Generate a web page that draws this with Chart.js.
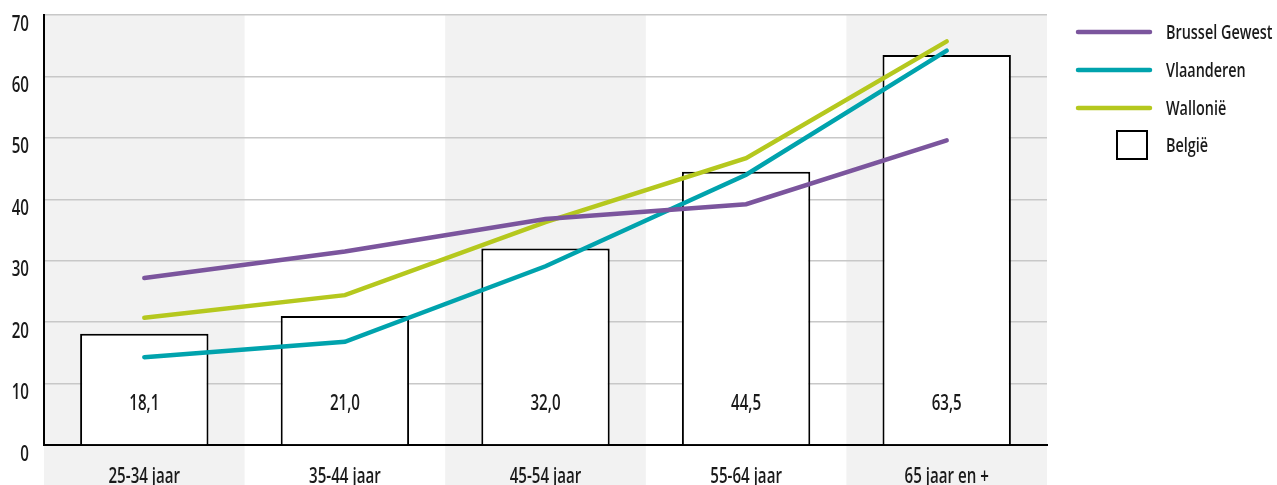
<!DOCTYPE html>
<html><head><meta charset="utf-8">
<script src="https://cdn.jsdelivr.net/npm/chart.js@4/dist/chart.umd.min.js"></script>
<style>html,body{margin:0;padding:0;background:#fff}canvas{display:block}</style>
</head><body>
<canvas id="c" width="1277" height="485"></canvas>
<script>
const categories = ["25-34 jaar", "35-44 jaar", "45-54 jaar", "55-64 jaar", "65 jaar en +"];
const belgie = [18.1, 21.0, 32.0, 44.5, 63.5];
const brussel = [27.2, 31.5, 36.8, 39.2, 49.6];
const vlaanderen = [14.3, 16.8, 29.1, 44.0, 64.2];
const wallonie = [20.7, 24.4, 36.3, 46.7, 65.7];
const yTicks = [0, 10, 20, 30, 40, 50, 60, 70];

const FONT = '"Open Sans", "Noto Sans", sans-serif';
const TXT = '#1a1a1a';
const SX = 0.72; // condensed look

function condText(ctx, text, x, y, align) {
  ctx.save();
  ctx.translate(x, y);
  ctx.scale(SX, 1);
  ctx.textAlign = align;
  ctx.fillText(text, 0, 0);
  ctx.restore();
}

const bandsPlugin = {
  id: 'bands',
  beforeDraw(chart) {
    const {ctx, chartArea, scales: {x}} = chart;
    const w = x.width / categories.length;
    ctx.save();
    ctx.fillStyle = '#f2f2f2';
    categories.forEach((c, i) => {
      if (i % 2 === 0) {
        const cx = x.getPixelForValue(i);
        ctx.fillRect(cx - w / 2, chartArea.top, w, chart.height - chartArea.top);
      }
    });
    ctx.restore();
  }
};

const textPlugin = {
  id: 'texts',
  afterDraw(chart) {
    const {ctx, chartArea, scales: {x, y}} = chart;
    ctx.save();
    ctx.font = '600 21px ' + FONT;
    ctx.fillStyle = TXT;
    ctx.textBaseline = 'alphabetic';
    y.ticks.forEach(t => {
      condText(ctx, String(t.value), 29, y.getPixelForValue(t.value) + 15.5, 'right');
    });
    categories.forEach((c, i) => {
      condText(ctx, c, x.getPixelForValue(i), 483, 'center');
    });
    belgie.forEach((v, i) => {
      condText(ctx, v.toFixed(1).replace('.', ','), x.getPixelForValue(i), chartArea.bottom - 35, 'center');
    });
    ctx.font = '600 20px ' + FONT;
    const ys = [32, 70, 108];
    [1, 2, 3].forEach((di, k) => {
      const ds = chart.data.datasets[di];
      ctx.strokeStyle = ds.borderColor;
      ctx.lineWidth = 4.5;
      ctx.lineCap = 'round';
      ctx.beginPath();
      ctx.moveTo(1078, ys[k]);
      ctx.lineTo(1150, ys[k]);
      ctx.stroke();
      condText(ctx, ds.label, 1166, ys[k] + 7, 'left');
    });
    const b = chart.data.datasets[0];
    ctx.fillStyle = '#fff';
    ctx.fillRect(1117, 131, 30, 28);
    ctx.strokeStyle = '#000';
    ctx.lineWidth = 2;
    ctx.strokeRect(1117, 131, 30, 28);
    ctx.fillStyle = TXT;
    condText(ctx, b.label, 1166, 152, 'left');
    ctx.restore();
  }
};

new Chart(document.getElementById('c'), {
  data: {
    labels: categories,
    datasets: [
      {type: 'bar', label: 'België', data: belgie, backgroundColor: '#ffffff', borderColor: '#000000', borderWidth: 2, barPercentage: 0.64, categoryPercentage: 1, order: 10},
      {type: 'line', label: 'Brussel Gewest', data: brussel, borderColor: '#7b559d', borderWidth: 4.5, pointRadius: 0, tension: 0, borderCapStyle: 'round', order: 1},
      {type: 'line', label: 'Vlaanderen', data: vlaanderen, borderColor: '#00a3ad', borderWidth: 4.5, pointRadius: 0, tension: 0, borderCapStyle: 'round', order: 1},
      {type: 'line', label: 'Wallonië', data: wallonie, borderColor: '#b5c81e', borderWidth: 4.5, pointRadius: 0, tension: 0, borderCapStyle: 'round', order: 1}
    ]
  },
  options: {
    responsive: false,
    animation: false,
    devicePixelRatio: 1,
    layout: {padding: {top: 15, right: 230, left: 0, bottom: 0}},
    plugins: {legend: {display: false}, tooltip: {enabled: false}},
    scales: {
      x: {
        grid: {display: false, drawTicks: false},
        border: {display: true, color: '#000', width: 2},
        ticks: {display: false},
        afterFit(s) { s.height = 40; s.paddingLeft = 0; s.paddingRight = 0; }
      },
      y: {
        min: 0, max: 70,
        afterBuildTicks(s) { s.ticks = yTicks.map(v => ({value: v})); },
        grid: {color: '#c8c8c8', lineWidth: 1.5, drawTicks: false},
        border: {display: true, color: '#000', width: 2},
        ticks: {display: false},
        afterFit(s) { s.width = 44; s.paddingTop = 0; s.paddingBottom = 0; }
      }
    }
  },
  plugins: [bandsPlugin, textPlugin]
});
</script>
</body></html>
